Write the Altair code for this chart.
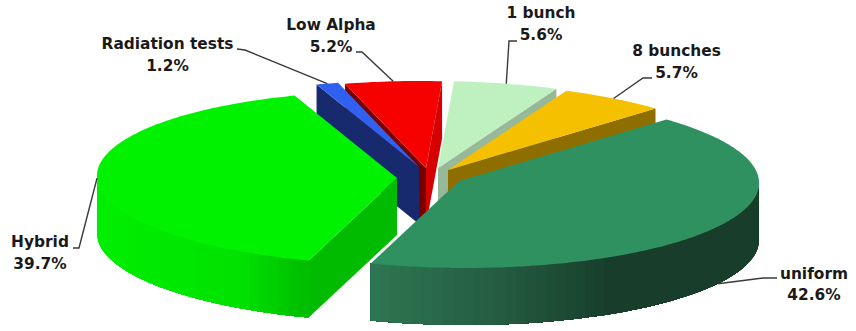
import math
import altair as alt

# Beam-mode shares, in percent, clockwise from the first slice behind the pie's north point
names = ["Radiation tests", "Low Alpha", "1 bunch", "8 bunches", "uniform", "Hybrid"]
shares = [1.2, 5.2, 5.6, 5.7, 42.6, 39.7]

# Layout of the tilted, exploded pie
START_ANGLE = 45.0 - 3.6 * sum(shares[:4])  # "uniform" begins at 45 degrees
RX, RY, DEPTH, SKEW = 300.0, 87.0, 57.0, 0.075
apex = {
    "8 bunches": (448, 170),
    "1 bunch": (438, 168),
    "Low Alpha": (426, 168),
    "Radiation tests": (419, 167),
    "Hybrid": (397, 178),
    "uniform": (459, 181),
}
top_color = {
    "8 bunches": "#f5c000",
    "1 bunch": "#bff0c0",
    "Low Alpha": "#f70000",
    "Radiation tests": "#3060f0",
    "Hybrid": "#00f200",
    "uniform": "#2f9160",
}
# Walls seen along a straight cut: (which cut, colour)
cut_walls = {
    "8 bunches": [("end", "#8f6e00")],
    "1 bunch": [("end", "#98b89a")],
    "Low Alpha": [("start", "#7a0000"), ("end", "#d60000")],
    "Radiation tests": [("start", "#172a6e")],
    "Hybrid": [("start", "#00bb00")],
    "uniform": [],
}
# Shading of the curved outer wall against screen x
rim_stops = {
    "Hybrid": [(97, (0, 238, 0)), (240, (0, 226, 0)), (285, (0, 200, 0)), (310, (0, 186, 0))],
    "uniform": [(370, (46, 118, 82)), (500, (36, 92, 64)), (610, (24, 62, 43)), (760, (24, 62, 43))],
}
paint_order = ["Low Alpha", "Radiation tests", "1 bunch", "8 bunches", "Hybrid", "uniform"]
# Label centres and the elbow of each leader line
label_pos = {
    "8 bunches": (676.5, 51, 73),
    "1 bunch": (541, 13, 35),
    "Low Alpha": (331, 25, 47),
    "Radiation tests": (167.5, 44, 66),
    "Hybrid": (40, 242, 264),
    "uniform": (814, 274, 295),
}
leader_tail = {
    "8 bunches": [(652, 78), (643, 78)],
    "1 bunch": [(517, 41), (509, 41)],
    "Low Alpha": [(356, 52), (362, 52)],
    "Radiation tests": [(237, 49), (245, 50)],
    "Hybrid": [(73, 248), (79, 248)],
    "uniform": [(777, 278), (763, 278)],
}

# Angular extent of every slice, derived from its share
spans = {}
angle = START_ANGLE
for name, share in zip(names, shares):
    spans[name] = (angle, angle + 3.6 * share)
    angle += 3.6 * share


def rim_point(name, deg, drop=0.0):
    cx, cy = apex[name]
    t = math.radians(deg)
    dy = -RY * math.cos(t)
    return (cx + RX * math.sin(t) + SKEW * dy, cy + dy + drop)


def poly(points, fill):
    ring = [list(p) for p in points] + [list(points[0])]
    return {
        "type": "Feature",
        "properties": {"fill": fill},
        "geometry": {"type": "Polygon", "coordinates": [ring]},
    }


def shade(stops, x):
    if x <= stops[0][0]:
        c = stops[0][1]
    elif x >= stops[-1][0]:
        c = stops[-1][1]
    else:
        for (x0, c0), (x1, c1) in zip(stops, stops[1:]):
            if x0 <= x <= x1:
                f = (x - x0) / (x1 - x0)
                c = tuple(a + (b - a) * f for a, b in zip(c0, c1))
                break
    return "#%02x%02x%02x" % tuple(round(v) for v in c)


features = []
for name in paint_order:
    a0, a1 = spans[name]
    cx, cy = apex[name]
    # straight cut walls
    for which, color in cut_walls[name]:
        p = rim_point(name, a0 if which == "start" else a1)
        features.append(poly([p, (cx, cy), (cx, cy + DEPTH), (p[0], p[1] + DEPTH)], color))
    # curved outer wall: each shaded band runs on to the wall's far end and is
    # overpainted by the next, so neighbouring bands leave no seam
    if name in rim_stops:
        lo, hi = max(a0, 90.0), min(a1, 270.0)
        steps = int((hi - lo) / 2.0)
        ticks = [lo + (hi - lo) * i / steps for i in range(steps + 1)]
        outer_is_right = name == "Hybrid"
        seq = list(reversed(ticks)) if outer_is_right else ticks
        for i in range(steps):
            rest = seq[i:]
            upper = [rim_point(name, d) for d in rest]
            lower = [rim_point(name, d, DEPTH) for d in reversed(rest)]
            x_mid = (rim_point(name, seq[i])[0] + rim_point(name, seq[i + 1])[0]) / 2
            features.append(poly(upper + lower, shade(rim_stops[name], x_mid)))
    # top face
    n = max(8, int(a1 - a0))
    arc = [rim_point(name, a0 + (a1 - a0) * i / n) for i in range(n + 1)]
    features.append(poly([(cx, cy)] + arc, top_color[name]))

# Leader lines run from the label elbow to the slice's middle on the rim
leaders = []
for name in names:
    a0, a1 = spans[name]
    mid = (a0 + a1) / 2
    drop = DEPTH if name == "uniform" else 0.0
    end = rim_point(name, mid, drop)
    leaders.append(
        {
            "type": "Feature",
            "properties": {"name": name},
            "geometry": {
                "type": "LineString",
                "coordinates": [list(p) for p in leader_tail[name]] + [list(end)],
            },
        }
    )

label_rows = []
for name, share in zip(names, shares):
    x, y1, y2 = label_pos[name]
    label_rows.append({"text": name, "x": x, "y": y1})
    label_rows.append({"text": f"{share}%", "x": x, "y": y2})

projection = alt.Projection(type="identity", scale=1, translate=[0, 0])

faces = (
    alt.Chart(alt.Data(values=features))
    .mark_geoshape(strokeWidth=0)
    .encode(fill=alt.Fill("properties.fill:N", scale=None))
    .project(**projection.to_dict())
)

lines = (
    alt.Chart(alt.Data(values=leaders))
    .mark_geoshape(filled=False, stroke="#3a3a3a", strokeWidth=1.4)
    .project(**projection.to_dict())
)

labels = (
    alt.Chart(alt.Data(values=label_rows))
    .mark_text(font="DejaVu Sans", fontWeight="bold", fontSize=15.4, color="#1a1a1a", baseline="middle", align="center")
    .encode(
        x=alt.X("x:Q", scale=None, axis=None),
        y=alt.Y("y:Q", scale=None, axis=None),
        text="text:N",
    )
)

chart = (
    alt.layer(faces, lines, labels)
    .properties(width=856, height=331, padding=0, autosize=alt.AutoSizeParams(type="none"), background="white")
    .configure_view(stroke=None)
)

chart.save("out.html", embed_options={"renderer": "svg", "actions": False})
